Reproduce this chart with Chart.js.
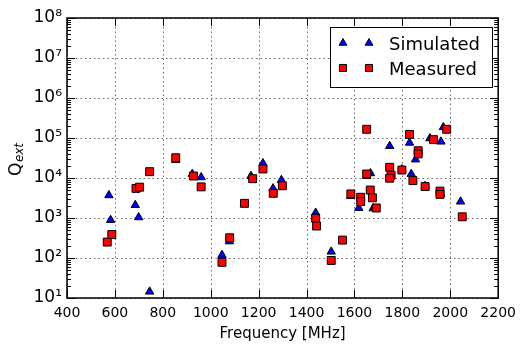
<!DOCTYPE html>
<html><head><meta charset="utf-8">
<script src="https://cdn.jsdelivr.net/npm/chart.js@4.4.0/dist/chart.umd.min.js"></script>
<style>html,body{margin:0;padding:0;background:#fff;overflow:hidden}canvas{display:block}</style>
</head><body>
<canvas id="c" width="523" height="344"></canvas>
<script>
// ---- data ----
const simFreq = [575, 582, 685, 699, 745, 854, 923, 960, 1047, 1078, 1140, 1168, 1218, 1260, 1295, 1438, 1503, 1550, 1584, 1618, 1651, 1667, 1678, 1747, 1798, 1830, 1837, 1855, 1895, 1915, 1960, 1961, 1971, 2043];
const simQ    = [3700, 890, 2100, 1040, 14.4, 28000, 12600, 10400, 119, 260, 2200, 11200, 23300, 5500, 8900, 1350, 144, 270, 3550, 1780, 11200, 13100, 1740, 63000, 16500, 76000, 12600, 29000, 6300, 98000, 4000, 81000, 186000, 2570];
const measFreq = [568, 587, 688, 703, 745, 854, 928, 960, 1047, 1079, 1141, 1175, 1218, 1261, 1299, 1438, 1442, 1503, 1550, 1585, 1626, 1626, 1651, 1651, 1666, 1675, 1691, 1747, 1753, 1747, 1798, 1830, 1844, 1866, 1866, 1895, 1930, 1957, 1957, 1985, 2050];
const measQ    = [250, 385, 5500, 5900, 14400, 32000, 11200, 6000, 78, 320, 2330, 9600, 16800, 4140, 6400, 980, 630, 87, 280, 4000, 3300, 2570, 165000, 12600, 5000, 3200, 1780, 18500, 11700, 9900, 15800, 123000, 8600, 48000, 40000, 6100, 91000, 4700, 3900, 165000, 1070];
const seriesNames = ['Simulated', 'Measured'];
const xTickValues = [400, 600, 800, 1000, 1200, 1400, 1600, 1800, 2000, 2200];
const yDecades = [1, 2, 3, 4, 5, 6, 7, 8];
const xTitle = 'Frequency [MHz]';
const yTitleMain = 'Q';
const yTitleSub = 'ext';

const SUP = {'0':'⁰','1':'¹','2':'²','3':'³','4':'⁴','5':'⁵','6':'⁶','7':'⁷','8':'⁸','9':'⁹'};
const FONT = "'DejaVu Sans', Verdana, sans-serif";

function toPts(xs, ys){ return xs.map((x,i)=>({x:x, y:ys[i]})); }

function drawMarker(ctx, style, x, y, r, fill){
  ctx.save();
  ctx.fillStyle = fill; ctx.strokeStyle = '#000'; ctx.lineWidth = 1;
  ctx.beginPath();
  if (style === 'triangle'){
    ctx.moveTo(x, y - r);
    ctx.lineTo(x + r*Math.sqrt(3)/2, y + r/2);
    ctx.lineTo(x - r*Math.sqrt(3)/2, y + r/2);
    ctx.closePath();
  } else {
    const s = r*Math.SQRT1_2;
    ctx.rect(x - s, y - s, 2*s, 2*s);
  }
  ctx.fill(); ctx.stroke();
  ctx.restore();
}

const decor = {
  id: 'decor',
  beforeDatasetsDraw(chart){
    const {ctx, chartArea: a, scales: {x, y}} = chart;
    ctx.save();
    ctx.strokeStyle = 'rgba(0,0,0,0.6)';
    ctx.lineWidth = 1;
    ctx.setLineDash([1.5, 3]);
    x.ticks.forEach(t => {
      const px = Math.round(x.getPixelForValue(t.value)) + 0.5;
      ctx.beginPath(); ctx.moveTo(px, a.top); ctx.lineTo(px, a.bottom); ctx.stroke();
    });
    y.ticks.forEach(t => {
      const py = Math.round(y.getPixelForValue(t.value)) + 0.5;
      ctx.beginPath(); ctx.moveTo(a.left, py); ctx.lineTo(a.right, py); ctx.stroke();
    });
    ctx.restore();
  },
  afterDatasetsDraw(chart){
    const {ctx, chartArea: a, scales: {x, y}} = chart;
    ctx.save();
    ctx.strokeStyle = '#000';
    ctx.lineWidth = 1;
    // x major ticks (inside, bottom and top)
    x.ticks.forEach(t => {
      const px = Math.round(x.getPixelForValue(t.value)) + 0.5;
      ctx.beginPath();
      ctx.moveTo(px, a.bottom); ctx.lineTo(px, a.bottom - 8);
      ctx.moveTo(px, a.top); ctx.lineTo(px, a.top + 8);
      ctx.stroke();
    });
    // y major ticks
    y.ticks.forEach(t => {
      const py = Math.round(y.getPixelForValue(t.value)) + 0.5;
      ctx.beginPath();
      ctx.moveTo(a.left, py); ctx.lineTo(a.left + 8, py);
      ctx.moveTo(a.right, py); ctx.lineTo(a.right - 8, py);
      ctx.stroke();
    });
    // y minor ticks
    for (let i = 0; i < yDecades.length - 1; i++){
      for (let k = 2; k <= 9; k++){
        const v = k * Math.pow(10, yDecades[i]);
        const py = Math.round(y.getPixelForValue(v)) + 0.5;
        ctx.beginPath();
        ctx.moveTo(a.left, py); ctx.lineTo(a.left + 4, py);
        ctx.moveTo(a.right, py); ctx.lineTo(a.right - 4, py);
        ctx.stroke();
      }
    }
    // frame
    ctx.lineWidth = 1.5;
    ctx.strokeRect(a.left, a.top, a.right - a.left, a.bottom - a.top);

    // legend
    const lx = 330, ly = 27, lw = 162, lh = 60;
    ctx.lineWidth = 1;
    ctx.fillStyle = '#fff';
    ctx.fillRect(lx, ly, lw, lh);
    ctx.strokeRect(lx + 0.5, ly + 0.5, lw, lh);
    const ds = chart.data.datasets;
    const rows = [{d: ds[0], y: 43}, {d: ds[1], y: 68}];
    rows.forEach(r => {
      const st = r.d.pointStyle;
      const rad = st === 'triangle' ? 4.5 : 5;
      drawMarker(ctx, st, 343, r.y, rad, r.d.backgroundColor);
      drawMarker(ctx, st, 369, r.y, rad, r.d.backgroundColor);
      ctx.fillStyle = '#000';
      ctx.font = '18px ' + FONT;
      ctx.textAlign = 'left';
      ctx.textBaseline = 'alphabetic';
      ctx.fillText(r.d.label, 389, r.y + 6.5);
    });

    // y axis title with subscript
    ctx.save();
    ctx.translate(0, 176);
    ctx.rotate(-Math.PI / 2);
    ctx.fillStyle = '#000';
    ctx.textAlign = 'left';
    ctx.textBaseline = 'alphabetic';
    ctx.font = '17px ' + FONT;
    ctx.fillText(yTitleMain, 0, 21);
    const qw = ctx.measureText(yTitleMain).width;
    ctx.font = 'italic 12px ' + FONT;
    ctx.fillText(yTitleSub, qw + 0.5, 23);
    ctx.restore();

    ctx.restore();
  }
};

new Chart(document.getElementById('c'), {
  type: 'scatter',
  data: {
    datasets: [
      {
        label: seriesNames[0],
        data: toPts(simFreq, simQ),
        pointStyle: 'triangle',
        pointRadius: 4.8,
        pointHoverRadius: 4.8,
        backgroundColor: '#0000ff',
        borderColor: '#000',
        borderWidth: 1,
        order: 2
      },
      {
        label: seriesNames[1],
        data: toPts(measFreq, measQ),
        pointStyle: 'rect',
        pointRadius: 5.6,
        pointHoverRadius: 5.6,
        backgroundColor: '#ff0000',
        borderColor: '#000',
        borderWidth: 1,
        order: 1
      }
    ]
  },
  options: {
    responsive: false,
    animation: false,
    devicePixelRatio: 1,
    layout: { padding: { left: 0, top: 18, right: 21, bottom: 0 } },
    plugins: { legend: { display: false }, tooltip: { enabled: false } },
    scales: {
      x: {
        type: 'linear',
        min: 400, max: 2200,
        afterBuildTicks: s => { s.ticks = xTickValues.map(v => ({value: v})); },
        afterFit: s => { s.height = 46; },
        grid: { display: false, drawTicks: false },
        border: { display: false },
        ticks: {
          color: '#000',
          font: { family: FONT, size: 14 },
          padding: 7,
          maxRotation: 0,
          callback: v => String(v)
        },
        title: {
          display: true,
          text: xTitle,
          color: '#000',
          font: { family: FONT, size: 15 },
          padding: { top: 0, bottom: 1 }
        }
      },
      y: {
        type: 'logarithmic',
        min: 10, max: 1e8,
        afterBuildTicks: s => { s.ticks = yDecades.map(e => ({value: Math.pow(10, e)})); },
        afterFit: s => { s.width = 67; },
        grid: { display: false, drawTicks: false },
        border: { display: false },
        ticks: {
          color: '#000',
          font: { family: FONT, size: 17 },
          padding: 5,
          autoSkip: false,
          callback: v => {
            const e = Math.round(Math.log10(v));
            return '10' + String(e).split('').map(c => SUP[c]).join('');
          }
        }
      }
    }
  },
  plugins: [decor]
});
</script>
</body></html>
